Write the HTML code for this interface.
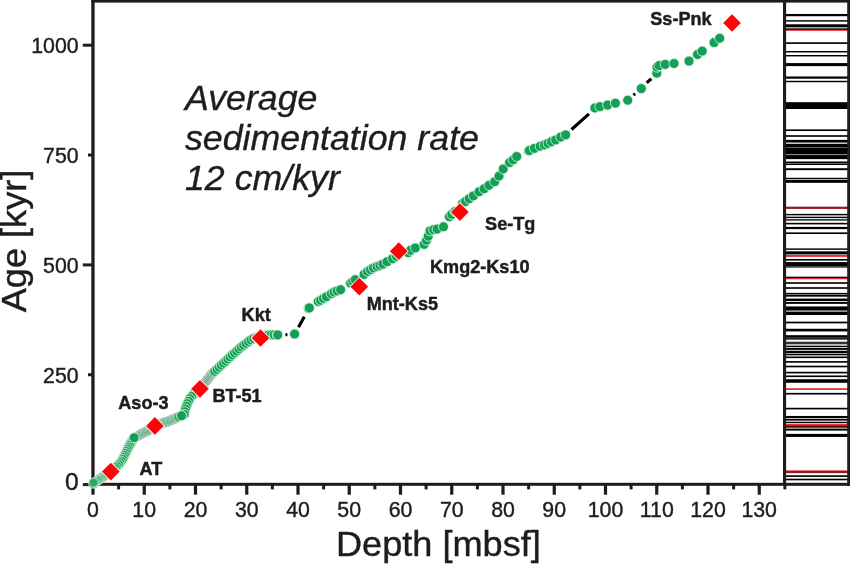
<!DOCTYPE html><html><head><meta charset="utf-8"><title>Age-depth model</title><style>
html,body{margin:0;padding:0;background:#fff;}
body{width:850px;height:564px;position:relative;overflow:hidden;font-family:"Liberation Sans",sans-serif;color:#201c1d;}
.t{position:absolute;white-space:nowrap;line-height:1;}
.lab{font-weight:bold;font-size:18.1px;-webkit-text-stroke:0.45px #201c1d;}
.tick{font-size:21.3px;-webkit-text-stroke:0.4px #201c1d;}
.ax{font-size:34.6px;-webkit-text-stroke:0.4px #201c1d;}
.note{font-style:italic;font-size:34.7px;transform:scaleX(1.03);transform-origin:0 50%;-webkit-text-stroke:0.35px #201c1d;}
#txt{position:absolute;left:0;top:0;width:850px;height:564px;filter:grayscale(1);}

</style></head><body>
<svg width="850" height="564" viewBox="0 0 850 564" style="position:absolute;left:0;top:0">
<rect width="850" height="564" fill="#fff"/>
<rect x="785" y="13.97" width="63" height="2.25" fill="#000"/>
<rect x="785" y="20.17" width="63" height="1.45" fill="#000"/>
<rect x="785" y="24.28" width="63" height="3.05" fill="#000"/>
<rect x="785" y="28.32" width="63" height="1.55" fill="#000"/>
<rect x="785" y="29.95" width="63" height="0.90" fill="#e8262a"/>
<rect x="785" y="42.27" width="63" height="1.65" fill="#000"/>
<rect x="785" y="50.98" width="63" height="1.45" fill="#000"/>
<rect x="785" y="54.98" width="63" height="1.45" fill="#000"/>
<rect x="785" y="63.08" width="63" height="3.05" fill="#000"/>
<rect x="785" y="76.48" width="63" height="2.25" fill="#000"/>
<rect x="785" y="80.78" width="63" height="1.45" fill="#000"/>
<rect x="785" y="102.18" width="63" height="6.85" fill="#000"/>
<rect x="785" y="129.38" width="63" height="1.65" fill="#000"/>
<rect x="785" y="135.18" width="63" height="1.65" fill="#000"/>
<rect x="785" y="139.88" width="63" height="2.65" fill="#000"/>
<rect x="785" y="143.77" width="63" height="3.85" fill="#000"/>
<rect x="785" y="147.30" width="63" height="0.80" fill="#777"/>
<rect x="785" y="147.88" width="63" height="6.45" fill="#000"/>
<rect x="785" y="154.30" width="63" height="0.80" fill="#777"/>
<rect x="785" y="155.07" width="63" height="4.05" fill="#000"/>
<rect x="785" y="161.52" width="63" height="1.75" fill="#000"/>
<rect x="785" y="163.57" width="63" height="1.45" fill="#000"/>
<rect x="785" y="168.22" width="63" height="1.95" fill="#000"/>
<rect x="785" y="177.78" width="63" height="1.45" fill="#000"/>
<rect x="785" y="179.97" width="63" height="2.85" fill="#000"/>
<rect x="785" y="206.67" width="63" height="2.25" fill="#a31518"/>
<rect x="785" y="213.88" width="63" height="1.45" fill="#000"/>
<rect x="785" y="216.67" width="63" height="1.45" fill="#000"/>
<rect x="785" y="219.07" width="63" height="1.65" fill="#333"/>
<rect x="785" y="222.78" width="63" height="1.65" fill="#000"/>
<rect x="785" y="226.88" width="63" height="2.25" fill="#000"/>
<rect x="785" y="232.38" width="63" height="1.65" fill="#000"/>
<rect x="785" y="248.38" width="63" height="1.45" fill="#000"/>
<rect x="785" y="251.32" width="63" height="2.75" fill="#000"/>
<rect x="785" y="254.47" width="63" height="1.25" fill="#333"/>
<rect x="785" y="255.75" width="63" height="1.10" fill="#e8262a"/>
<rect x="785" y="258.98" width="63" height="1.65" fill="#000"/>
<rect x="785" y="262.07" width="63" height="4.45" fill="#000"/>
<rect x="785" y="266.27" width="63" height="1.45" fill="#333"/>
<rect x="785" y="276.67" width="63" height="1.45" fill="#000"/>
<rect x="785" y="277.95" width="63" height="1.30" fill="#e8262a"/>
<rect x="785" y="282.18" width="63" height="1.65" fill="#000"/>
<rect x="785" y="287.18" width="63" height="1.65" fill="#000"/>
<rect x="785" y="292.87" width="63" height="1.45" fill="#000"/>
<rect x="785" y="294.72" width="63" height="1.95" fill="#000"/>
<rect x="785" y="298.57" width="63" height="2.45" fill="#000"/>
<rect x="785" y="301.92" width="63" height="1.95" fill="#000"/>
<rect x="785" y="306.43" width="63" height="4.15" fill="#000"/>
<rect x="785" y="310.55" width="63" height="0.90" fill="#777"/>
<rect x="785" y="311.77" width="63" height="3.25" fill="#000"/>
<rect x="785" y="321.62" width="63" height="1.75" fill="#000"/>
<rect x="785" y="328.77" width="63" height="2.65" fill="#000"/>
<rect x="785" y="335.18" width="63" height="2.65" fill="#000"/>
<rect x="785" y="338.17" width="63" height="1.45" fill="#000"/>
<rect x="785" y="341.68" width="63" height="2.65" fill="#333"/>
<rect x="785" y="345.67" width="63" height="1.45" fill="#000"/>
<rect x="785" y="347.92" width="63" height="1.95" fill="#000"/>
<rect x="785" y="350.77" width="63" height="2.45" fill="#000"/>
<rect x="785" y="353.87" width="63" height="1.45" fill="#000"/>
<rect x="785" y="356.48" width="63" height="1.65" fill="#000"/>
<rect x="785" y="361.07" width="63" height="1.65" fill="#000"/>
<rect x="785" y="365.68" width="63" height="1.65" fill="#000"/>
<rect x="785" y="371.77" width="63" height="1.65" fill="#000"/>
<rect x="785" y="375.48" width="63" height="1.65" fill="#000"/>
<rect x="785" y="379.23" width="63" height="3.55" fill="#000"/>
<rect x="785" y="388.25" width="63" height="1.70" fill="#e8262a"/>
<rect x="785" y="392.88" width="63" height="1.65" fill="#000"/>
<rect x="785" y="407.77" width="63" height="1.65" fill="#000"/>
<rect x="785" y="415.97" width="63" height="2.25" fill="#000"/>
<rect x="785" y="418.98" width="63" height="1.65" fill="#000"/>
<rect x="785" y="421.77" width="63" height="1.45" fill="#000"/>
<rect x="785" y="424.05" width="63" height="1.10" fill="#e8262a"/>
<rect x="785" y="425.27" width="63" height="2.45" fill="#4a0505"/>
<rect x="785" y="428.57" width="63" height="2.05" fill="#000"/>
<rect x="785" y="433.88" width="63" height="3.05" fill="#000"/>
<rect x="785" y="470.48" width="63" height="2.65" fill="#a31518"/>
<rect x="785" y="475.27" width="63" height="1.65" fill="#000"/>
<rect x="785" y="478.68" width="63" height="1.65" fill="#000"/>
<rect x="91.3" y="0" width="3.3" height="486" fill="#201c1d"/>
<rect x="91.3" y="0" width="758.7" height="2.6" fill="#201c1d"/>
<rect x="91.3" y="482.8" width="758.7" height="3.0" fill="#201c1d"/>
<rect x="783.0" y="0" width="3.1" height="486" fill="#201c1d"/>
<rect x="847.2" y="0" width="2.8" height="486" fill="#201c1d"/>
<rect x="91.40" y="484" width="3.2" height="10.7" fill="#201c1d"/>
<rect x="117.12" y="484" width="3.0" height="5.4" fill="#201c1d"/>
<rect x="142.65" y="484" width="3.2" height="10.7" fill="#201c1d"/>
<rect x="168.38" y="484" width="3.0" height="5.4" fill="#201c1d"/>
<rect x="193.90" y="484" width="3.2" height="10.7" fill="#201c1d"/>
<rect x="219.62" y="484" width="3.0" height="5.4" fill="#201c1d"/>
<rect x="245.15" y="484" width="3.2" height="10.7" fill="#201c1d"/>
<rect x="270.88" y="484" width="3.0" height="5.4" fill="#201c1d"/>
<rect x="296.40" y="484" width="3.2" height="10.7" fill="#201c1d"/>
<rect x="322.12" y="484" width="3.0" height="5.4" fill="#201c1d"/>
<rect x="347.65" y="484" width="3.2" height="10.7" fill="#201c1d"/>
<rect x="373.38" y="484" width="3.0" height="5.4" fill="#201c1d"/>
<rect x="398.90" y="484" width="3.2" height="10.7" fill="#201c1d"/>
<rect x="424.62" y="484" width="3.0" height="5.4" fill="#201c1d"/>
<rect x="450.15" y="484" width="3.2" height="10.7" fill="#201c1d"/>
<rect x="475.88" y="484" width="3.0" height="5.4" fill="#201c1d"/>
<rect x="501.40" y="484" width="3.2" height="10.7" fill="#201c1d"/>
<rect x="527.12" y="484" width="3.0" height="5.4" fill="#201c1d"/>
<rect x="552.65" y="484" width="3.2" height="10.7" fill="#201c1d"/>
<rect x="578.38" y="484" width="3.0" height="5.4" fill="#201c1d"/>
<rect x="603.90" y="484" width="3.2" height="10.7" fill="#201c1d"/>
<rect x="629.62" y="484" width="3.0" height="5.4" fill="#201c1d"/>
<rect x="655.15" y="484" width="3.2" height="10.7" fill="#201c1d"/>
<rect x="680.88" y="484" width="3.0" height="5.4" fill="#201c1d"/>
<rect x="706.40" y="484" width="3.2" height="10.7" fill="#201c1d"/>
<rect x="732.12" y="484" width="3.0" height="5.4" fill="#201c1d"/>
<rect x="757.65" y="484" width="3.2" height="10.7" fill="#201c1d"/>
<rect x="783.38" y="484" width="3.0" height="5.4" fill="#201c1d"/>
<rect x="82.8" y="483.10" width="10.200000000000003" height="3.0" fill="#201c1d"/>
<rect x="88.0" y="373.25" width="5.0" height="3.0" fill="#201c1d"/>
<rect x="82.8" y="263.40" width="10.200000000000003" height="3.0" fill="#201c1d"/>
<rect x="88.0" y="153.55" width="5.0" height="3.0" fill="#201c1d"/>
<rect x="82.8" y="43.70" width="10.200000000000003" height="3.0" fill="#201c1d"/>
<line x1="285.4" y1="334.7" x2="287.4" y2="334.6" stroke="#000" stroke-width="3.1"/>
<line x1="298.5" y1="327.3" x2="304.3" y2="316.8" stroke="#000" stroke-width="3.1"/>
<line x1="571.5" y1="129.5" x2="589" y2="113.9" stroke="#000" stroke-width="3.1"/>
<line x1="633.5" y1="95.2" x2="635.1" y2="93.7" stroke="#000" stroke-width="3.1"/>
<line x1="646.7" y1="82.7" x2="651.3" y2="78.8" stroke="#000" stroke-width="3.1"/>
<circle cx="93.40" cy="483.60" r="4.7" fill="#2aa765" stroke="#c6cfca" stroke-width="0.9"/>
<circle cx="94.47" cy="482.86" r="4.7" fill="#2aa765" stroke="#c6cfca" stroke-width="0.9"/>
<circle cx="95.53" cy="482.12" r="4.7" fill="#2aa765" stroke="#c6cfca" stroke-width="0.9"/>
<circle cx="96.60" cy="481.37" r="4.7" fill="#2aa765" stroke="#c6cfca" stroke-width="0.9"/>
<circle cx="97.67" cy="480.63" r="4.7" fill="#2aa765" stroke="#c6cfca" stroke-width="0.9"/>
<circle cx="98.74" cy="479.89" r="4.7" fill="#2aa765" stroke="#c6cfca" stroke-width="0.9"/>
<circle cx="99.80" cy="479.15" r="4.7" fill="#2aa765" stroke="#c6cfca" stroke-width="0.9"/>
<circle cx="100.87" cy="478.40" r="4.7" fill="#2aa765" stroke="#c6cfca" stroke-width="0.9"/>
<circle cx="101.94" cy="477.66" r="4.7" fill="#2aa765" stroke="#c6cfca" stroke-width="0.9"/>
<circle cx="103.01" cy="476.92" r="4.7" fill="#2aa765" stroke="#c6cfca" stroke-width="0.9"/>
<circle cx="104.07" cy="476.18" r="4.7" fill="#2aa765" stroke="#c6cfca" stroke-width="0.9"/>
<circle cx="105.14" cy="475.44" r="4.7" fill="#2aa765" stroke="#c6cfca" stroke-width="0.9"/>
<circle cx="106.21" cy="474.69" r="4.7" fill="#2aa765" stroke="#c6cfca" stroke-width="0.9"/>
<circle cx="107.27" cy="473.95" r="4.7" fill="#2aa765" stroke="#c6cfca" stroke-width="0.9"/>
<circle cx="108.34" cy="473.21" r="4.7" fill="#2aa765" stroke="#c6cfca" stroke-width="0.9"/>
<circle cx="109.41" cy="472.47" r="4.7" fill="#2aa765" stroke="#c6cfca" stroke-width="0.9"/>
<circle cx="110.48" cy="471.72" r="4.7" fill="#2aa765" stroke="#c6cfca" stroke-width="0.9"/>
<circle cx="110.80" cy="471.50" r="4.7" fill="#2aa765" stroke="#c6cfca" stroke-width="0.9"/>
<circle cx="132.80" cy="440.00" r="5.0" fill="#13a055" stroke="#e2f6ea" stroke-width="0.8"/>
<circle cx="131.67" cy="441.89" r="5.0" fill="#13a055" stroke="#e2f6ea" stroke-width="0.8"/>
<circle cx="130.54" cy="443.77" r="5.0" fill="#13a055" stroke="#e2f6ea" stroke-width="0.8"/>
<circle cx="129.40" cy="445.66" r="5.0" fill="#13a055" stroke="#e2f6ea" stroke-width="0.8"/>
<circle cx="128.38" cy="447.60" r="5.0" fill="#13a055" stroke="#e2f6ea" stroke-width="0.8"/>
<circle cx="127.37" cy="449.56" r="5.0" fill="#13a055" stroke="#e2f6ea" stroke-width="0.8"/>
<circle cx="126.37" cy="451.52" r="5.0" fill="#13a055" stroke="#e2f6ea" stroke-width="0.8"/>
<circle cx="125.36" cy="453.48" r="5.0" fill="#13a055" stroke="#e2f6ea" stroke-width="0.8"/>
<circle cx="124.43" cy="455.47" r="5.0" fill="#13a055" stroke="#e2f6ea" stroke-width="0.8"/>
<circle cx="123.49" cy="457.46" r="5.0" fill="#13a055" stroke="#e2f6ea" stroke-width="0.8"/>
<circle cx="122.56" cy="459.45" r="5.0" fill="#13a055" stroke="#e2f6ea" stroke-width="0.8"/>
<circle cx="121.30" cy="461.24" r="5.0" fill="#13a055" stroke="#e2f6ea" stroke-width="0.8"/>
<circle cx="119.92" cy="462.96" r="5.0" fill="#13a055" stroke="#e2f6ea" stroke-width="0.8"/>
<circle cx="118.53" cy="464.66" r="5.0" fill="#13a055" stroke="#e2f6ea" stroke-width="0.8"/>
<circle cx="116.88" cy="466.12" r="5.0" fill="#13a055" stroke="#e2f6ea" stroke-width="0.8"/>
<circle cx="115.24" cy="467.57" r="5.0" fill="#13a055" stroke="#e2f6ea" stroke-width="0.8"/>
<circle cx="113.59" cy="469.03" r="5.0" fill="#13a055" stroke="#e2f6ea" stroke-width="0.8"/>
<circle cx="111.94" cy="470.48" r="5.0" fill="#13a055" stroke="#e2f6ea" stroke-width="0.8"/>
<circle cx="110.90" cy="471.40" r="5.0" fill="#13a055" stroke="#e2f6ea" stroke-width="0.8"/>
<circle cx="137.50" cy="436.20" r="4.7" fill="#2aa765" stroke="#c6cfca" stroke-width="0.9"/>
<circle cx="138.72" cy="435.51" r="4.7" fill="#2aa765" stroke="#c6cfca" stroke-width="0.9"/>
<circle cx="139.93" cy="434.81" r="4.7" fill="#2aa765" stroke="#c6cfca" stroke-width="0.9"/>
<circle cx="141.15" cy="434.12" r="4.7" fill="#2aa765" stroke="#c6cfca" stroke-width="0.9"/>
<circle cx="142.40" cy="433.49" r="4.7" fill="#2aa765" stroke="#c6cfca" stroke-width="0.9"/>
<circle cx="143.64" cy="432.85" r="4.7" fill="#2aa765" stroke="#c6cfca" stroke-width="0.9"/>
<circle cx="144.89" cy="432.21" r="4.7" fill="#2aa765" stroke="#c6cfca" stroke-width="0.9"/>
<circle cx="146.14" cy="431.58" r="4.7" fill="#2aa765" stroke="#c6cfca" stroke-width="0.9"/>
<circle cx="147.40" cy="430.97" r="4.7" fill="#2aa765" stroke="#c6cfca" stroke-width="0.9"/>
<circle cx="148.66" cy="430.36" r="4.7" fill="#2aa765" stroke="#c6cfca" stroke-width="0.9"/>
<circle cx="149.87" cy="429.68" r="4.7" fill="#2aa765" stroke="#c6cfca" stroke-width="0.9"/>
<circle cx="150.96" cy="428.79" r="4.7" fill="#2aa765" stroke="#c6cfca" stroke-width="0.9"/>
<circle cx="152.04" cy="427.91" r="4.7" fill="#2aa765" stroke="#c6cfca" stroke-width="0.9"/>
<circle cx="153.13" cy="427.02" r="4.7" fill="#2aa765" stroke="#c6cfca" stroke-width="0.9"/>
<circle cx="154.22" cy="426.14" r="4.7" fill="#2aa765" stroke="#c6cfca" stroke-width="0.9"/>
<circle cx="155.37" cy="425.39" r="4.7" fill="#2aa765" stroke="#c6cfca" stroke-width="0.9"/>
<circle cx="156.71" cy="424.98" r="4.7" fill="#2aa765" stroke="#c6cfca" stroke-width="0.9"/>
<circle cx="158.05" cy="424.56" r="4.7" fill="#2aa765" stroke="#c6cfca" stroke-width="0.9"/>
<circle cx="159.39" cy="424.15" r="4.7" fill="#2aa765" stroke="#c6cfca" stroke-width="0.9"/>
<circle cx="160.72" cy="423.74" r="4.7" fill="#2aa765" stroke="#c6cfca" stroke-width="0.9"/>
<circle cx="162.06" cy="423.33" r="4.7" fill="#2aa765" stroke="#c6cfca" stroke-width="0.9"/>
<circle cx="163.40" cy="422.92" r="4.7" fill="#2aa765" stroke="#c6cfca" stroke-width="0.9"/>
<circle cx="164.74" cy="422.51" r="4.7" fill="#2aa765" stroke="#c6cfca" stroke-width="0.9"/>
<circle cx="166.08" cy="422.10" r="4.7" fill="#2aa765" stroke="#c6cfca" stroke-width="0.9"/>
<circle cx="167.42" cy="421.69" r="4.7" fill="#2aa765" stroke="#c6cfca" stroke-width="0.9"/>
<circle cx="168.72" cy="421.18" r="4.7" fill="#2aa765" stroke="#c6cfca" stroke-width="0.9"/>
<circle cx="170.01" cy="420.64" r="4.7" fill="#2aa765" stroke="#c6cfca" stroke-width="0.9"/>
<circle cx="171.30" cy="420.10" r="4.7" fill="#2aa765" stroke="#c6cfca" stroke-width="0.9"/>
<circle cx="172.60" cy="419.57" r="4.7" fill="#2aa765" stroke="#c6cfca" stroke-width="0.9"/>
<circle cx="173.89" cy="419.02" r="4.7" fill="#2aa765" stroke="#c6cfca" stroke-width="0.9"/>
<circle cx="175.17" cy="418.47" r="4.7" fill="#2aa765" stroke="#c6cfca" stroke-width="0.9"/>
<circle cx="176.46" cy="417.92" r="4.7" fill="#2aa765" stroke="#c6cfca" stroke-width="0.9"/>
<circle cx="177.75" cy="417.37" r="4.7" fill="#2aa765" stroke="#c6cfca" stroke-width="0.9"/>
<circle cx="178.60" cy="417.00" r="4.7" fill="#2aa765" stroke="#c6cfca" stroke-width="0.9"/>
<circle cx="134.10" cy="437.70" r="5.0" fill="#13a055" stroke="#e2f6ea" stroke-width="0.8"/>
<circle cx="199.90" cy="389.10" r="5.0" fill="#13a055" stroke="#e2f6ea" stroke-width="0.8"/>
<circle cx="197.73" cy="390.86" r="5.0" fill="#13a055" stroke="#e2f6ea" stroke-width="0.8"/>
<circle cx="195.55" cy="392.63" r="5.0" fill="#13a055" stroke="#e2f6ea" stroke-width="0.8"/>
<circle cx="193.38" cy="394.39" r="5.0" fill="#13a055" stroke="#e2f6ea" stroke-width="0.8"/>
<circle cx="191.50" cy="396.44" r="5.0" fill="#13a055" stroke="#e2f6ea" stroke-width="0.8"/>
<circle cx="189.85" cy="398.70" r="5.0" fill="#13a055" stroke="#e2f6ea" stroke-width="0.8"/>
<circle cx="188.58" cy="401.20" r="5.0" fill="#13a055" stroke="#e2f6ea" stroke-width="0.8"/>
<circle cx="187.31" cy="403.69" r="5.0" fill="#13a055" stroke="#e2f6ea" stroke-width="0.8"/>
<circle cx="186.38" cy="406.33" r="5.0" fill="#13a055" stroke="#e2f6ea" stroke-width="0.8"/>
<circle cx="185.47" cy="408.98" r="5.0" fill="#13a055" stroke="#e2f6ea" stroke-width="0.8"/>
<circle cx="184.79" cy="411.69" r="5.0" fill="#13a055" stroke="#e2f6ea" stroke-width="0.8"/>
<circle cx="184.12" cy="414.41" r="5.0" fill="#13a055" stroke="#e2f6ea" stroke-width="0.8"/>
<circle cx="181.68" cy="415.71" r="5.0" fill="#13a055" stroke="#e2f6ea" stroke-width="0.8"/>
<circle cx="181.50" cy="415.80" r="5.0" fill="#13a055" stroke="#e2f6ea" stroke-width="0.8"/>
<circle cx="199.90" cy="389.10" r="4.7" fill="#2aa765" stroke="#c6cfca" stroke-width="0.9"/>
<circle cx="200.77" cy="388.00" r="4.7" fill="#2aa765" stroke="#c6cfca" stroke-width="0.9"/>
<circle cx="201.64" cy="386.90" r="4.7" fill="#2aa765" stroke="#c6cfca" stroke-width="0.9"/>
<circle cx="202.50" cy="385.80" r="4.7" fill="#2aa765" stroke="#c6cfca" stroke-width="0.9"/>
<circle cx="203.37" cy="384.70" r="4.7" fill="#2aa765" stroke="#c6cfca" stroke-width="0.9"/>
<circle cx="204.24" cy="383.61" r="4.7" fill="#2aa765" stroke="#c6cfca" stroke-width="0.9"/>
<circle cx="205.11" cy="382.51" r="4.7" fill="#2aa765" stroke="#c6cfca" stroke-width="0.9"/>
<circle cx="205.97" cy="381.41" r="4.7" fill="#2aa765" stroke="#c6cfca" stroke-width="0.9"/>
<circle cx="206.84" cy="380.31" r="4.7" fill="#2aa765" stroke="#c6cfca" stroke-width="0.9"/>
<circle cx="207.70" cy="379.20" r="4.7" fill="#2aa765" stroke="#c6cfca" stroke-width="0.9"/>
<circle cx="208.54" cy="378.09" r="4.7" fill="#2aa765" stroke="#c6cfca" stroke-width="0.9"/>
<circle cx="209.39" cy="376.97" r="4.7" fill="#2aa765" stroke="#c6cfca" stroke-width="0.9"/>
<circle cx="210.23" cy="375.85" r="4.7" fill="#2aa765" stroke="#c6cfca" stroke-width="0.9"/>
<circle cx="211.07" cy="374.73" r="4.7" fill="#2aa765" stroke="#c6cfca" stroke-width="0.9"/>
<circle cx="212.10" cy="373.78" r="4.7" fill="#2aa765" stroke="#c6cfca" stroke-width="0.9"/>
<circle cx="213.13" cy="372.83" r="4.7" fill="#2aa765" stroke="#c6cfca" stroke-width="0.9"/>
<circle cx="213.60" cy="372.40" r="4.7" fill="#2aa765" stroke="#c6cfca" stroke-width="0.9"/>
<circle cx="214.80" cy="371.30" r="5.0" fill="#13a055" stroke="#e2f6ea" stroke-width="0.8"/>
<circle cx="217.06" cy="369.34" r="5.0" fill="#13a055" stroke="#e2f6ea" stroke-width="0.8"/>
<circle cx="219.18" cy="367.22" r="5.0" fill="#13a055" stroke="#e2f6ea" stroke-width="0.8"/>
<circle cx="221.32" cy="365.11" r="5.0" fill="#13a055" stroke="#e2f6ea" stroke-width="0.8"/>
<circle cx="223.57" cy="363.13" r="5.0" fill="#13a055" stroke="#e2f6ea" stroke-width="0.8"/>
<circle cx="225.83" cy="361.15" r="5.0" fill="#13a055" stroke="#e2f6ea" stroke-width="0.8"/>
<circle cx="227.96" cy="359.04" r="5.0" fill="#13a055" stroke="#e2f6ea" stroke-width="0.8"/>
<circle cx="230.08" cy="356.92" r="5.0" fill="#13a055" stroke="#e2f6ea" stroke-width="0.8"/>
<circle cx="232.29" cy="354.89" r="5.0" fill="#13a055" stroke="#e2f6ea" stroke-width="0.8"/>
<circle cx="234.56" cy="352.94" r="5.0" fill="#13a055" stroke="#e2f6ea" stroke-width="0.8"/>
<circle cx="236.82" cy="350.96" r="5.0" fill="#13a055" stroke="#e2f6ea" stroke-width="0.8"/>
<circle cx="239.05" cy="348.96" r="5.0" fill="#13a055" stroke="#e2f6ea" stroke-width="0.8"/>
<circle cx="241.32" cy="346.99" r="5.0" fill="#13a055" stroke="#e2f6ea" stroke-width="0.8"/>
<circle cx="243.73" cy="345.21" r="5.0" fill="#13a055" stroke="#e2f6ea" stroke-width="0.8"/>
<circle cx="246.14" cy="343.42" r="5.0" fill="#13a055" stroke="#e2f6ea" stroke-width="0.8"/>
<circle cx="248.55" cy="341.64" r="5.0" fill="#13a055" stroke="#e2f6ea" stroke-width="0.8"/>
<circle cx="250.97" cy="339.86" r="5.0" fill="#13a055" stroke="#e2f6ea" stroke-width="0.8"/>
<circle cx="253.64" cy="338.49" r="5.0" fill="#13a055" stroke="#e2f6ea" stroke-width="0.8"/>
<circle cx="256.47" cy="337.55" r="5.0" fill="#13a055" stroke="#e2f6ea" stroke-width="0.8"/>
<circle cx="259.38" cy="336.85" r="5.0" fill="#13a055" stroke="#e2f6ea" stroke-width="0.8"/>
<circle cx="262.32" cy="336.24" r="5.0" fill="#13a055" stroke="#e2f6ea" stroke-width="0.8"/>
<circle cx="265.27" cy="335.69" r="5.0" fill="#13a055" stroke="#e2f6ea" stroke-width="0.8"/>
<circle cx="268.22" cy="335.14" r="5.0" fill="#13a055" stroke="#e2f6ea" stroke-width="0.8"/>
<circle cx="271.19" cy="334.90" r="5.0" fill="#13a055" stroke="#e2f6ea" stroke-width="0.8"/>
<circle cx="274.19" cy="334.90" r="5.0" fill="#13a055" stroke="#e2f6ea" stroke-width="0.8"/>
<circle cx="277.19" cy="334.90" r="5.0" fill="#13a055" stroke="#e2f6ea" stroke-width="0.8"/>
<circle cx="277.70" cy="334.90" r="5.0" fill="#13a055" stroke="#e2f6ea" stroke-width="0.8"/>
<circle cx="294.60" cy="334.10" r="5.0" fill="#13a055" stroke="#e2f6ea" stroke-width="0.8"/>
<circle cx="308.60" cy="308.40" r="5.0" fill="#13a055" stroke="#e2f6ea" stroke-width="0.8"/>
<circle cx="309.40" cy="307.90" r="5.0" fill="#13a055" stroke="#e2f6ea" stroke-width="0.8"/>
<circle cx="318.20" cy="301.50" r="5.0" fill="#13a055" stroke="#e2f6ea" stroke-width="0.8"/>
<circle cx="320.60" cy="300.30" r="5.0" fill="#13a055" stroke="#e2f6ea" stroke-width="0.8"/>
<circle cx="323.50" cy="298.50" r="5.0" fill="#13a055" stroke="#e2f6ea" stroke-width="0.8"/>
<circle cx="326.50" cy="296.80" r="5.0" fill="#13a055" stroke="#e2f6ea" stroke-width="0.8"/>
<circle cx="331.20" cy="293.80" r="5.0" fill="#13a055" stroke="#e2f6ea" stroke-width="0.8"/>
<circle cx="334.10" cy="292.10" r="5.0" fill="#13a055" stroke="#e2f6ea" stroke-width="0.8"/>
<circle cx="337.10" cy="290.90" r="5.0" fill="#13a055" stroke="#e2f6ea" stroke-width="0.8"/>
<circle cx="340.60" cy="289.70" r="5.0" fill="#13a055" stroke="#e2f6ea" stroke-width="0.8"/>
<circle cx="350.60" cy="283.20" r="5.0" fill="#13a055" stroke="#e2f6ea" stroke-width="0.8"/>
<circle cx="352.90" cy="281.50" r="5.0" fill="#13a055" stroke="#e2f6ea" stroke-width="0.8"/>
<circle cx="355.30" cy="279.70" r="5.0" fill="#13a055" stroke="#e2f6ea" stroke-width="0.8"/>
<circle cx="364.10" cy="274.40" r="5.0" fill="#13a055" stroke="#e2f6ea" stroke-width="0.8"/>
<circle cx="367.60" cy="271.50" r="5.0" fill="#13a055" stroke="#e2f6ea" stroke-width="0.8"/>
<circle cx="370.60" cy="269.70" r="5.0" fill="#13a055" stroke="#e2f6ea" stroke-width="0.8"/>
<circle cx="373.50" cy="267.90" r="5.0" fill="#13a055" stroke="#e2f6ea" stroke-width="0.8"/>
<circle cx="377.10" cy="266.50" r="5.0" fill="#13a055" stroke="#e2f6ea" stroke-width="0.8"/>
<circle cx="380.00" cy="265.40" r="5.0" fill="#13a055" stroke="#e2f6ea" stroke-width="0.8"/>
<circle cx="382.90" cy="264.20" r="5.0" fill="#13a055" stroke="#e2f6ea" stroke-width="0.8"/>
<circle cx="387.10" cy="261.80" r="5.0" fill="#13a055" stroke="#e2f6ea" stroke-width="0.8"/>
<circle cx="392.60" cy="258.80" r="5.0" fill="#13a055" stroke="#e2f6ea" stroke-width="0.8"/>
<circle cx="396.50" cy="256.50" r="5.0" fill="#13a055" stroke="#e2f6ea" stroke-width="0.8"/>
<circle cx="408.20" cy="252.60" r="5.0" fill="#13a055" stroke="#e2f6ea" stroke-width="0.8"/>
<circle cx="410.60" cy="250.30" r="5.0" fill="#13a055" stroke="#e2f6ea" stroke-width="0.8"/>
<circle cx="415.30" cy="247.90" r="5.0" fill="#13a055" stroke="#e2f6ea" stroke-width="0.8"/>
<circle cx="424.10" cy="244.40" r="5.0" fill="#13a055" stroke="#e2f6ea" stroke-width="0.8"/>
<circle cx="426.50" cy="240.30" r="5.0" fill="#13a055" stroke="#e2f6ea" stroke-width="0.8"/>
<circle cx="428.20" cy="236.20" r="5.0" fill="#13a055" stroke="#e2f6ea" stroke-width="0.8"/>
<circle cx="430.00" cy="230.90" r="5.0" fill="#13a055" stroke="#e2f6ea" stroke-width="0.8"/>
<circle cx="433.50" cy="229.70" r="5.0" fill="#13a055" stroke="#e2f6ea" stroke-width="0.8"/>
<circle cx="437.10" cy="229.10" r="5.0" fill="#13a055" stroke="#e2f6ea" stroke-width="0.8"/>
<circle cx="443.50" cy="226.80" r="5.0" fill="#13a055" stroke="#e2f6ea" stroke-width="0.8"/>
<circle cx="449.40" cy="216.80" r="5.0" fill="#13a055" stroke="#e2f6ea" stroke-width="0.8"/>
<circle cx="451.80" cy="214.40" r="5.0" fill="#13a055" stroke="#e2f6ea" stroke-width="0.8"/>
<circle cx="455.00" cy="211.50" r="5.0" fill="#13a055" stroke="#e2f6ea" stroke-width="0.8"/>
<circle cx="462.40" cy="203.80" r="5.0" fill="#13a055" stroke="#e2f6ea" stroke-width="0.8"/>
<circle cx="465.50" cy="201.50" r="5.0" fill="#13a055" stroke="#e2f6ea" stroke-width="0.8"/>
<circle cx="469.20" cy="198.80" r="5.0" fill="#13a055" stroke="#e2f6ea" stroke-width="0.8"/>
<circle cx="473.40" cy="195.90" r="5.0" fill="#13a055" stroke="#e2f6ea" stroke-width="0.8"/>
<circle cx="479.10" cy="191.70" r="5.0" fill="#13a055" stroke="#e2f6ea" stroke-width="0.8"/>
<circle cx="484.10" cy="188.80" r="5.0" fill="#13a055" stroke="#e2f6ea" stroke-width="0.8"/>
<circle cx="489.00" cy="185.30" r="5.0" fill="#13a055" stroke="#e2f6ea" stroke-width="0.8"/>
<circle cx="494.70" cy="181.70" r="5.0" fill="#13a055" stroke="#e2f6ea" stroke-width="0.8"/>
<circle cx="499.00" cy="176.10" r="5.0" fill="#13a055" stroke="#e2f6ea" stroke-width="0.8"/>
<circle cx="503.20" cy="169.00" r="5.0" fill="#13a055" stroke="#e2f6ea" stroke-width="0.8"/>
<circle cx="509.60" cy="162.60" r="5.0" fill="#13a055" stroke="#e2f6ea" stroke-width="0.8"/>
<circle cx="513.20" cy="159.80" r="5.0" fill="#13a055" stroke="#e2f6ea" stroke-width="0.8"/>
<circle cx="516.70" cy="156.50" r="5.0" fill="#13a055" stroke="#e2f6ea" stroke-width="0.8"/>
<circle cx="528.60" cy="151.00" r="5.0" fill="#13a055" stroke="#e2f6ea" stroke-width="0.8"/>
<circle cx="529.50" cy="150.50" r="5.0" fill="#13a055" stroke="#e2f6ea" stroke-width="0.8"/>
<circle cx="534.40" cy="148.40" r="5.0" fill="#13a055" stroke="#e2f6ea" stroke-width="0.8"/>
<circle cx="540.10" cy="146.30" r="5.0" fill="#13a055" stroke="#e2f6ea" stroke-width="0.8"/>
<circle cx="544.40" cy="144.90" r="5.0" fill="#13a055" stroke="#e2f6ea" stroke-width="0.8"/>
<circle cx="547.90" cy="143.40" r="5.0" fill="#13a055" stroke="#e2f6ea" stroke-width="0.8"/>
<circle cx="551.50" cy="141.70" r="5.0" fill="#13a055" stroke="#e2f6ea" stroke-width="0.8"/>
<circle cx="555.70" cy="139.90" r="5.0" fill="#13a055" stroke="#e2f6ea" stroke-width="0.8"/>
<circle cx="560.70" cy="137.10" r="5.0" fill="#13a055" stroke="#e2f6ea" stroke-width="0.8"/>
<circle cx="565.60" cy="134.90" r="5.0" fill="#13a055" stroke="#e2f6ea" stroke-width="0.8"/>
<circle cx="594.90" cy="108.00" r="5.0" fill="#13a055" stroke="#e2f6ea" stroke-width="0.8"/>
<circle cx="599.80" cy="106.70" r="5.0" fill="#13a055" stroke="#e2f6ea" stroke-width="0.8"/>
<circle cx="607.60" cy="105.10" r="5.0" fill="#13a055" stroke="#e2f6ea" stroke-width="0.8"/>
<circle cx="615.40" cy="103.20" r="5.0" fill="#13a055" stroke="#e2f6ea" stroke-width="0.8"/>
<circle cx="627.70" cy="100.20" r="5.0" fill="#13a055" stroke="#e2f6ea" stroke-width="0.8"/>
<circle cx="641.30" cy="88.60" r="5.0" fill="#13a055" stroke="#e2f6ea" stroke-width="0.8"/>
<circle cx="656.80" cy="73.20" r="5.0" fill="#13a055" stroke="#e2f6ea" stroke-width="0.8"/>
<circle cx="657.00" cy="67.20" r="5.0" fill="#13a055" stroke="#e2f6ea" stroke-width="0.8"/>
<circle cx="659.10" cy="65.60" r="5.0" fill="#13a055" stroke="#e2f6ea" stroke-width="0.8"/>
<circle cx="665.20" cy="64.40" r="5.0" fill="#13a055" stroke="#e2f6ea" stroke-width="0.8"/>
<circle cx="674.00" cy="63.50" r="5.0" fill="#13a055" stroke="#e2f6ea" stroke-width="0.8"/>
<circle cx="689.00" cy="61.10" r="5.0" fill="#13a055" stroke="#e2f6ea" stroke-width="0.8"/>
<circle cx="697.60" cy="54.50" r="5.0" fill="#13a055" stroke="#e2f6ea" stroke-width="0.8"/>
<circle cx="702.20" cy="51.10" r="5.0" fill="#13a055" stroke="#e2f6ea" stroke-width="0.8"/>
<circle cx="714.10" cy="42.60" r="5.0" fill="#13a055" stroke="#e2f6ea" stroke-width="0.8"/>
<circle cx="719.70" cy="38.30" r="5.0" fill="#13a055" stroke="#e2f6ea" stroke-width="0.8"/>
<circle cx="98.00" cy="480.20" r="4.4" fill="#2aa765" stroke="#bfe6d0" stroke-width="0.7"/>
<circle cx="96.60" cy="481.00" r="4.4" fill="#2aa765" stroke="#bfe6d0" stroke-width="0.7"/>
<circle cx="95.40" cy="481.70" r="4.4" fill="#2aa765" stroke="#bfe6d0" stroke-width="0.7"/>
<circle cx="94.30" cy="482.20" r="4.4" fill="#2aa765" stroke="#bfe6d0" stroke-width="0.7"/>
<circle cx="93.40" cy="482.70" r="4.4" fill="#2aa765" stroke="#bfe6d0" stroke-width="0.7"/>
<polygon points="101.95,471.60 110.80,462.75 119.65,471.60 110.80,480.45" fill="#fb0506" stroke="#fff" stroke-width="1.6" paint-order="stroke"/>
<polygon points="146.05,425.90 154.90,417.05 163.75,425.90 154.90,434.75" fill="#fb0506" stroke="#fff" stroke-width="1.6" paint-order="stroke"/>
<polygon points="191.15,388.80 200.00,379.95 208.85,388.80 200.00,397.65" fill="#fb0506" stroke="#fff" stroke-width="1.6" paint-order="stroke"/>
<polygon points="251.65,338.00 260.50,329.15 269.35,338.00 260.50,346.85" fill="#fb0506" stroke="#fff" stroke-width="1.6" paint-order="stroke"/>
<polygon points="350.45,286.70 359.30,277.85 368.15,286.70 359.30,295.55" fill="#fb0506" stroke="#fff" stroke-width="1.6" paint-order="stroke"/>
<polygon points="389.95,251.20 398.80,242.35 407.65,251.20 398.80,260.05" fill="#fb0506" stroke="#fff" stroke-width="1.6" paint-order="stroke"/>
<polygon points="451.05,212.10 459.90,203.25 468.75,212.10 459.90,220.95" fill="#fb0506" stroke="#fff" stroke-width="1.6" paint-order="stroke"/>
<polygon points="723.15,23.00 732.00,14.15 740.85,23.00 732.00,31.85" fill="#fb0506" stroke="#fff" stroke-width="1.6" paint-order="stroke"/>
</svg>
<div id="txt">
<div class="t lab" style="left:139.6px;top:460.0px">AT</div>
<div class="t lab" style="left:118.3px;top:394.4px">Aso-3</div>
<div class="t lab" style="left:212.4px;top:387.1px">BT-51</div>
<div class="t lab" style="left:241.6px;top:306.2px">Kkt</div>
<div class="t lab" style="left:366.7px;top:295.2px">Mnt-Ks5</div>
<div class="t lab" style="left:430.0px;top:257.7px">Kmg2-Ks10</div>
<div class="t lab" style="left:485.1px;top:214.5px">Se-Tg</div>
<div class="t lab" style="left:650.3px;top:10.3px">Ss-Pnk</div>
<div class="t tick" style="left:63.0px;width:60px;text-align:center;top:499.5px">0</div>
<div class="t tick" style="left:114.2px;width:60px;text-align:center;top:499.5px">10</div>
<div class="t tick" style="left:165.5px;width:60px;text-align:center;top:499.5px">20</div>
<div class="t tick" style="left:216.8px;width:60px;text-align:center;top:499.5px">30</div>
<div class="t tick" style="left:268.0px;width:60px;text-align:center;top:499.5px">40</div>
<div class="t tick" style="left:319.2px;width:60px;text-align:center;top:499.5px">50</div>
<div class="t tick" style="left:370.5px;width:60px;text-align:center;top:499.5px">60</div>
<div class="t tick" style="left:421.8px;width:60px;text-align:center;top:499.5px">70</div>
<div class="t tick" style="left:473.0px;width:60px;text-align:center;top:499.5px">80</div>
<div class="t tick" style="left:524.2px;width:60px;text-align:center;top:499.5px">90</div>
<div class="t tick" style="left:575.5px;width:60px;text-align:center;top:499.5px">100</div>
<div class="t tick" style="left:626.8px;width:60px;text-align:center;top:499.5px">110</div>
<div class="t tick" style="left:678.0px;width:60px;text-align:center;top:499.5px">120</div>
<div class="t tick" style="left:729.2px;width:60px;text-align:center;top:499.5px">130</div>
<div class="t tick" style="left:0px;width:78.6px;text-align:right;font-size:24.6px;top:469.9px">0</div>
<div class="t tick" style="left:0px;width:78.6px;text-align:right;top:365.6px">250</div>
<div class="t tick" style="left:0px;width:78.6px;text-align:right;top:255.7px">500</div>
<div class="t tick" style="left:0px;width:78.6px;text-align:right;top:145.8px">750</div>
<div class="t tick" style="left:0px;width:78.6px;text-align:right;top:36.0px">1000</div>
<div class="t ax" style="left:336.3px;top:526.7px;transform:scaleX(1.045);transform-origin:0 50%">Depth [mbsf]</div>
<div class="t ax" style="left:0;top:0;transform-origin:0 0;transform:translate(-3.3px,312.3px) rotate(-90deg) scaleX(1.045)">Age [kyr]</div>
<div class="t note" style="left:185.2px;top:77.5px;line-height:40.2px">Average<br>sedimentation rate<br>12 cm/kyr</div>
</div>
</body></html>
